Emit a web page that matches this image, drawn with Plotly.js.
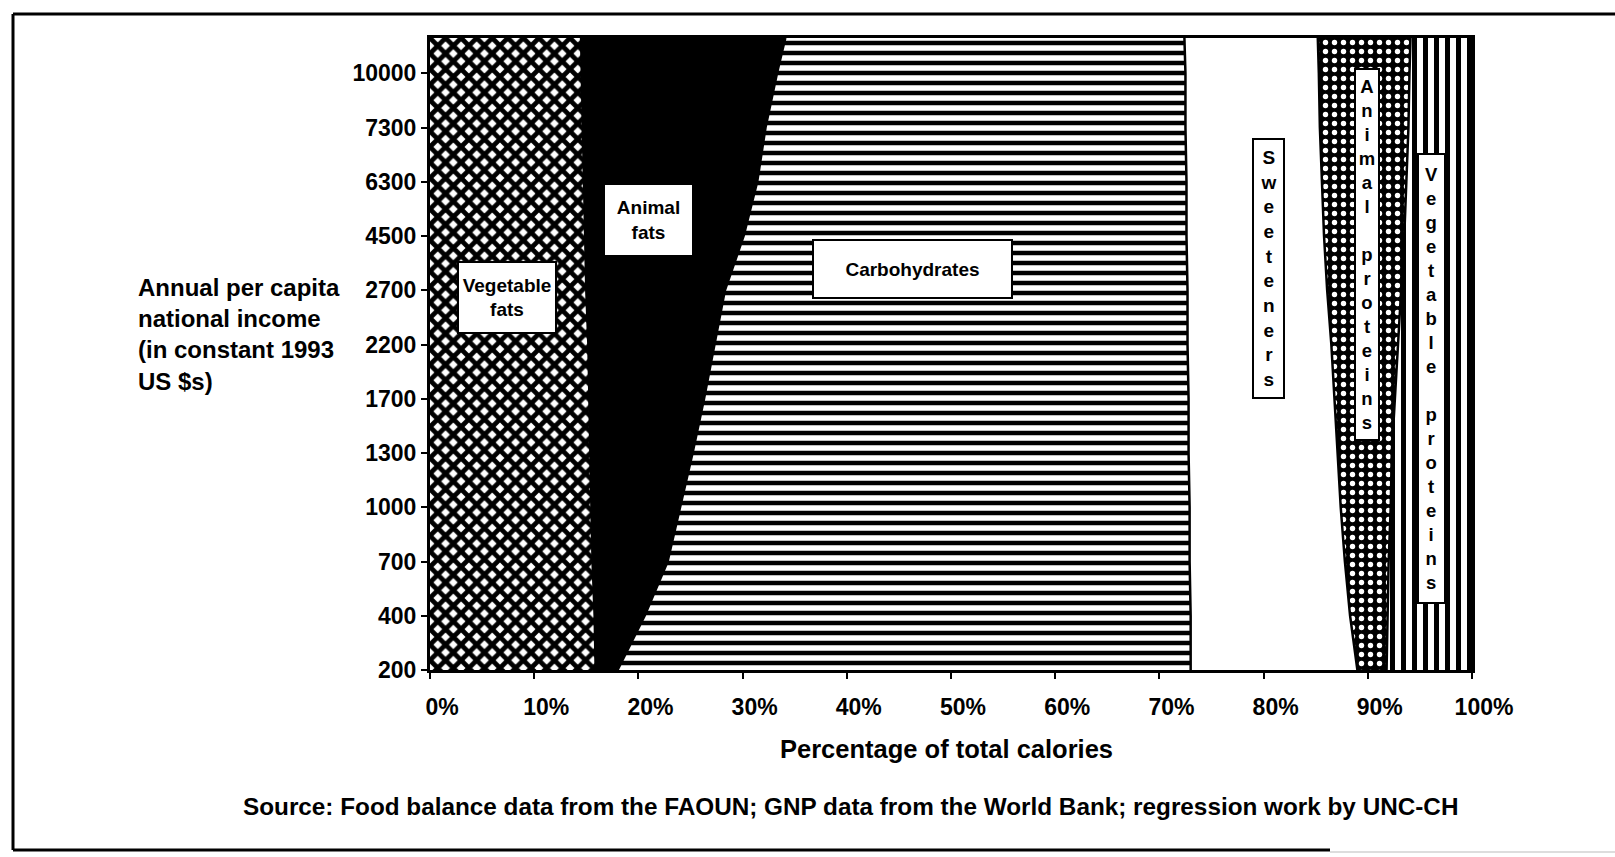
<!DOCTYPE html>
<html>
<head>
<meta charset="utf-8">
<script src="https://cdn.plot.ly/plotly-3.0.1.min.js"></script>
<style>
  html, body { margin: 0; padding: 0; background: #fff; }
  #chart { width: 1615px; height: 857px; }
</style>
</head>
<body>
<div id="chart"></div>
<script>
// ---------------- DATA ----------------
// Income levels (y axis categories, bottom to top)
const incomeLabels = ['200', '400', '700', '1000', '1300', '1700', '2200', '2700', '4500', '6300', '7300', '10000'];
// Share of total calories (%) at each income level; last value = reading at the top edge of the frame
const vegetableFats   = [15.9, 15.8, 15.6, 15.5, 15.4, 15.3, 15.2, 15.0, 14.9, 14.8, 14.7, 14.6, 14.5];
const animalFats      = [ 2.1,  4.8,  7.2,  8.5,  9.8, 11.0, 12.1, 13.3, 15.2, 16.6, 17.5, 18.7, 19.6];
const carbohydrates   = [55.0, 52.4, 50.1, 48.9, 47.6, 46.5, 45.4, 44.4, 42.5, 41.2, 40.3, 39.2, 38.3];
const sweeteners      = [16.0, 15.3, 14.9, 14.5, 14.3, 14.0, 13.8, 13.4, 13.2, 13.0, 12.9, 12.8, 12.8];
const animalProteins  = [ 2.8,  3.6,  4.2,  4.8,  5.2,  5.8,  6.4,  7.1,  7.7,  8.1,  8.5,  8.7,  8.9];
const vegetableProteins = [8.2, 8.1,  8.0,  7.8,  7.7,  7.4,  7.1,  6.8,  6.5,  6.3,  6.1,  6.0,  5.9];
const xTickVals = [0, 10, 20, 30, 40, 50, 60, 70, 80, 90, 100];

// ---------------- LAYOUT HELPERS ----------------
const W = 1615, H = 857;
const M = { l: 430, r: 143, t: 38, b: 187 };
const plotW = W - M.l - M.r, plotH = H - M.t - M.b;
const Y_TOP = 11.65; // top of the y axis range (frame top)
const px2x = px => (px - M.l) / plotW;
const py2y = py => (H - M.b - py) / plotH;

const rowPos = incomeLabels.map((_, i) => i).concat([Y_TOP]);

const FONT = '"Liberation Sans", Arial, Helvetica, sans-serif';

const series = [
  { name: 'Vegetable fats', v: vegetableFats, fill: 'tozerox', fillcolor: '#fff',
    pattern: { shape: 'x', fgcolor: '#000', bgcolor: '#fff', size: 11, solidity: 0.68 } },
  { name: 'Animal fats', v: animalFats, fill: 'tonextx', fillcolor: '#000', pattern: null },
  { name: 'Carbohydrates', v: carbohydrates, fill: 'tonextx', fillcolor: '#fff',
    pattern: { shape: '-', fgcolor: '#000', bgcolor: '#fff', size: 10, solidity: 0.45 } },
  { name: 'Sweeteners', v: sweeteners, fill: 'tonextx', fillcolor: '#fff', pattern: null },
  { name: 'Animal proteins', v: animalProteins, fill: 'tonextx', fillcolor: '#000',
    pattern: { shape: '.', fgcolor: '#fff', bgcolor: '#000', size: 9, solidity: 0.28 } },
  { name: 'Vegetable proteins', v: vegetableProteins, fill: 'tonextx', fillcolor: '#fff',
    pattern: { shape: '|', fgcolor: '#000', bgcolor: '#fff', size: 11, solidity: 0.45 } }
];

let cum = rowPos.map(() => 0);
const traces = series.map(s => {
  cum = cum.map((c, i) => c + s.v[i]);
  const t = {
    type: 'scatter', mode: 'lines', name: s.name,
    x: cum.slice(), y: rowPos,
    line: { color: '#000', width: 2.5 },
    fill: s.fill, fillcolor: s.fillcolor,
    hoverinfo: 'skip', showlegend: false
  };
  if (s.pattern) t.fillpattern = s.pattern;
  return t;
});

function vertical(text) {
  return text.split(' ').map(w => w.split('').join('<br>')).join('<br> <br>');
}

function boxLabel(text, cx, cy, w, h, size) {
  return {
    text: text, xref: 'paper', yref: 'paper', x: px2x(cx), y: py2y(cy),
    xanchor: 'center', yanchor: 'middle', showarrow: false,
    bgcolor: '#fff', bordercolor: '#000', borderwidth: 2, borderpad: 0,
    width: w, height: h, align: 'center', valign: 'middle',
    font: { family: FONT, size: size, color: '#000', weight: 700 }
  };
}

const annotations = [
  boxLabel('Vegetable<br>fats', 507, 297, 96, 69, 19),
  boxLabel('Animal<br>fats', 648, 220, 87, 70, 19),
  boxLabel('Carbohydrates', 912, 269, 197, 56, 19),
  boxLabel(vertical('Sweeteners'), 1268, 268, 29, 257, 19),
  boxLabel(vertical('Animal proteins'), 1367, 254, 22, 369, 18.5),
  boxLabel(vertical('Vegetable proteins'), 1431, 378, 25, 447, 18.5),
  {
    text: 'Annual per capita<br>national income<br>(in constant 1993<br>US $s)',
    xref: 'paper', yref: 'paper', x: px2x(136), y: py2y(334),
    xanchor: 'left', yanchor: 'middle', align: 'left', showarrow: false,
    font: { family: FONT, size: 24, color: '#000', weight: 700 }
  },
  {
    text: 'Percentage of total calories',
    xref: 'paper', yref: 'paper', x: px2x(946), y: py2y(749),
    xanchor: 'center', yanchor: 'middle', showarrow: false,
    font: { family: FONT, size: 25.5, color: '#000', weight: 700 }
  },
  {
    text: 'Source: Food balance data from the FAOUN; GNP data from the World Bank; regression work by UNC-CH',
    xref: 'paper', yref: 'paper', x: px2x(850), y: py2y(806),
    xanchor: 'center', yanchor: 'middle', showarrow: false,
    font: { family: FONT, size: 24.3, color: '#000', weight: 700 }
  }
];

const shapes = [
  { type: 'line', xref: 'paper', yref: 'paper', x0: px2x(13), x1: px2x(1615), y0: py2y(14), y1: py2y(14), line: { color: '#000', width: 3 } },
  { type: 'line', xref: 'paper', yref: 'paper', x0: px2x(13), x1: px2x(13), y0: py2y(14), y1: py2y(850), line: { color: '#000', width: 3 } },
  { type: 'line', xref: 'paper', yref: 'paper', x0: px2x(13), x1: px2x(1330), y0: py2y(850), y1: py2y(850), line: { color: '#000', width: 3 } },
  { type: 'line', xref: 'paper', yref: 'paper', x0: px2x(1330), x1: px2x(1615), y0: py2y(852), y1: py2y(852), line: { color: '#bbb', width: 1 } }
];

const tickFont = { family: FONT, size: 23, color: '#000', weight: 700 };

const layout = {
  width: W, height: H,
  margin: M,
  paper_bgcolor: '#fff', plot_bgcolor: '#fff',
  showlegend: false,
  xaxis: {
    range: [0, 100], tickvals: xTickVals, ticktext: xTickVals.map(v => v + '%'),
    showgrid: false, zeroline: false,
    showline: true, linecolor: '#000', linewidth: 3, mirror: true,
    ticks: 'outside', ticklen: 6, tickwidth: 2, tickcolor: '#000',
    tickfont: Object.assign({}, tickFont, { size: 23 }),
    ticklabelshift: 12, ticklabelstandoff: 8,
    fixedrange: true
  },
  yaxis: {
    range: [0, Y_TOP], tickvals: incomeLabels.map((_, i) => i), ticktext: incomeLabels,
    showgrid: false, zeroline: false,
    showline: true, linecolor: '#000', linewidth: 3, mirror: true,
    ticks: 'outside', ticklen: 6, tickwidth: 2, tickcolor: '#000',
    tickfont: tickFont, ticklabelstandoff: 0,
    fixedrange: true
  },
  annotations: annotations,
  shapes: shapes
};

Plotly.newPlot('chart', traces, layout, { staticPlot: true, displayModeBar: false });
</script>
</body>
</html>
